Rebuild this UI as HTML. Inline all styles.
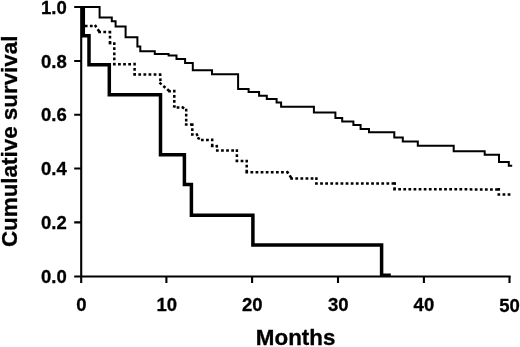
<!DOCTYPE html>
<html><head><meta charset="utf-8">
<style>
html,body{margin:0;padding:0;background:#fff;}
svg{display:block;}
text{font-family:"Liberation Sans",Arial,Helvetica,sans-serif;font-weight:bold;fill:#000;stroke:#000;stroke-width:0.3px;}
</style></head><body>
<svg width="520" height="347" viewBox="0 0 520 347">
<rect width="520" height="347" fill="#fff"/>
<!-- axes -->
<g stroke="#000" stroke-width="2.1" fill="none" stroke-linecap="butt">
<path d="M81.2 6V283.1"/>
<path d="M74.2 276.45H510.6"/>
<path d="M74.2 7.05H82M74.2 61H81M74.2 114.8H81M74.2 168.5H81M74.2 222.4H81"/>
<path d="M166.4 276.2V283M252.1 276.2V283M338 276.2V283M423.9 276.2V283M509.5 276.2V283"/>
</g>
<!-- thin curve -->
<path fill="none" stroke="#000" stroke-width="2" stroke-linejoin="miter" d="M81 7.05H99.6V17.4H111.8V21.2H115.6V26.4H125.6V37.2H137.4V46.6H140.3V51.2H154.8V53.9H168.6V55.6H176.5V58.95H185.1V63.1H192.8V70.3H212V74.2H238.1V88.9H248.6V92.1H259.1V95.8H266.8V98.9H276.6V102.4H281.1V106.7H313.9V112.5H335.4V118.1H342.2V121.5H353.4V124.9H360.6V129H369V132.15H394.3V137.6H402.8V141.5H417.8V145.7H453.7V151.2H484.7V154.7H499V161.9H508.8V165.7H512.2"/>
<!-- dotted curve -->
<path fill="none" stroke="#000" stroke-width="2.5" stroke-dasharray="2.75 2.35" d="M84.80 26.10L95.6 26.1M94.85 24.98L99.6 32.1M98.25 32.10L110 32.1M110.00 30.75L110 43.2M108.66 43.07L114.3 43.6M114.30 42.25L114.3 64.2M112.95 64.20L134.6 64.2M134.60 62.85L134.6 74.6M133.25 74.60L160.2 74.6M160.15 73.25L160.5 83.5M159.47 82.62L169.5 91.2M168.15 91.20L174.3 91.2M174.30 89.85L174.3 106.5M173.01 106.12L178 107.6M176.65 107.60L183 107.6M181.92 106.79L186.2 110M186.20 108.65L186.2 124.5M184.85 124.50L192.3 124.5M192.30 123.15L192.3 134.5M190.95 134.47L197 134.6M196.48 133.36L198.6 138.4M197.35 137.89L202.3 139.9M200.95 139.90L212.2 139.9M212.20 138.55L212.2 146M210.85 145.94L216.8 146.2M216.64 144.86L217.3 150.4M215.95 150.39L236.9 150.6M236.90 149.25L236.9 160.9M235.55 160.89L246.7 161M246.70 159.65L246.7 172.3M245.35 172.30L287.6 172.3M286.86 171.17L291.6 178.4M290.25 178.39L316.4 178.6M316.40 177.25L316.4 183.6M315.05 183.60L394.7 183.5M394.75 182.15L394.5 189.3M393.15 189.30L498.8 189.4M498.80 188.05L498.8 194.5M497.45 194.50L512.5 194.5"/>
<!-- thick curve -->
<path fill="none" stroke="#000" stroke-width="3.5" stroke-linejoin="miter" d="M83.3 6V35.7H89V64.8H109.3V94.7H160.5V154.85H184.4V184.4H191.4V215.2H252.9V245H381.6V275.35H390.8"/>
<!-- labels -->
<g font-size="18.5" text-anchor="end">
<text x="66.8" y="13.6">1.0</text>
<text x="66.8" y="67.6">0.8</text>
<text x="66.8" y="121.4">0.6</text>
<text x="66.8" y="175.1">0.4</text>
<text x="66.8" y="228.9">0.2</text>
<text x="66.8" y="282.8">0.0</text>
</g>
<g font-size="18.5" text-anchor="middle">
<text x="81.4" y="311.1">0</text>
<text x="166.8" y="311.1">10</text>
<text x="252.3" y="311.1">20</text>
<text x="338.2" y="311.1">30</text>
<text x="423.9" y="311.1">40</text>
<text x="509.5" y="311.6">50</text>
</g>
<text font-size="22.4" x="295.6" y="345.4" text-anchor="middle">Months</text>
<text font-size="22.4" transform="translate(16.6 141.3) rotate(-90)" text-anchor="middle">Cumulative survival</text>
</svg>
</body></html>
